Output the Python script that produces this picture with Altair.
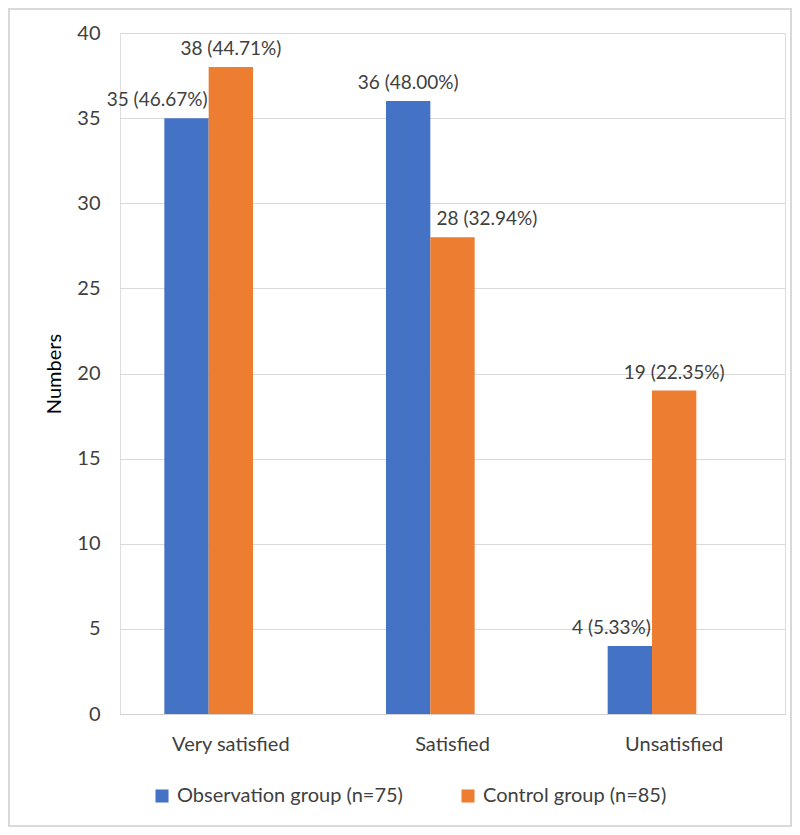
import altair as alt
import pandas as pd

categories = ["Very satisfied", "Satisfied", "Unsatisfied"]
groups = ["Observation group (n=75)", "Control group (n=85)"]
observation = [35, 36, 4]
control = [38, 28, 19]
observation_pct = ["46.67%", "48.00%", "5.33%"]
control_pct = ["44.71%", "32.94%", "22.35%"]

rows = []
for i, c in enumerate(categories):
    # the shorter bar of a pair gets its label pushed away from the taller neighbour
    rows.append({"cat": c, "group": groups[0], "value": observation[i],
                 "label": f"{observation[i]} ({observation_pct[i]})",
                 "place": "right" if observation[i] < control[i] else "center"})
    rows.append({"cat": c, "group": groups[1], "value": control[i],
                 "label": f"{control[i]} ({control_pct[i]})",
                 "place": "left" if control[i] < observation[i] else "center"})
df = pd.DataFrame(rows)

FONT = "Lato"
TXT = "#404040"
W, H = 665, 681

x = alt.X("cat:N", sort=categories, title=None,
          scale=alt.Scale(paddingInner=0.4, paddingOuter=0.2),
          axis=alt.Axis(labelAngle=0, labelFontSize=20, labelColor=TXT, labelFont=FONT,
                        ticks=False, domain=True, domainColor="#d0d0d0", labelPadding=20))
xo = alt.XOffset("group:N", scale=alt.Scale(domain=groups + ["_"], paddingInner=0, paddingOuter=0))
y = alt.Y("value:Q", title="Numbers",
          scale=alt.Scale(domain=[0, 40], nice=False),
          axis=alt.Axis(values=list(range(0, 41, 5)), labelFontSize=20, labelColor=TXT,
                        labelFont=FONT, ticks=False, domain=False, gridColor="#d9d9d9",
                        labelPadding=20, titleFont=FONT, titleFontSize=20,
                        titleFontWeight="normal", titleColor="#000000", titlePadding=12))
color = alt.Color("group:N", scale=alt.Scale(domain=groups, range=["#4472C4", "#ED7D31"]),
                  legend=alt.Legend(title=None, orient="none", legendX=32, legendY=753,
                                    direction="horizontal", symbolType="square",
                                    symbolSize=170, symbolStrokeWidth=0, labelFontSize=20,
                                    labelFont=FONT, labelColor=TXT, columnPadding=55,
                                    labelOffset=5, labelLimit=400))

bars = alt.Chart(df).mark_bar().encode(x=x, xOffset=xo, y=y, color=color)

def label_layer(place, align, dx):
    return alt.Chart(df).transform_filter(alt.datum.place == place).mark_text(
        baseline="bottom", dy=-8, dx=dx, align=align, fontSize=19, font=FONT, color=TXT
    ).encode(x=x, xOffset=xo, y=y, text="label:N")

labels_c = label_layer("center", "center", 0)
labels_r = label_layer("right", "right", 21)
labels_l = label_layer("left", "left", -16)

frame = alt.Chart(pd.DataFrame({"a": [0]})).mark_rect(
    fill=None, stroke="#d9d9d9", strokeWidth=2, clip=False
).encode(x=alt.value(-111), x2=alt.value(W + 6), y=alt.value(-24), y2=alt.value(H + 112))

chart = alt.layer(frame, bars, labels_c, labels_r, labels_l).properties(
    width=W, height=H,
    autosize=alt.AutoSizeParams(type="none"),
    padding={"left": 112, "top": 25, "right": 7, "bottom": 113},
).configure_view(stroke=None).configure(background="white")

chart.save("out.html", embed_options={"renderer": "svg", "actions": False})
